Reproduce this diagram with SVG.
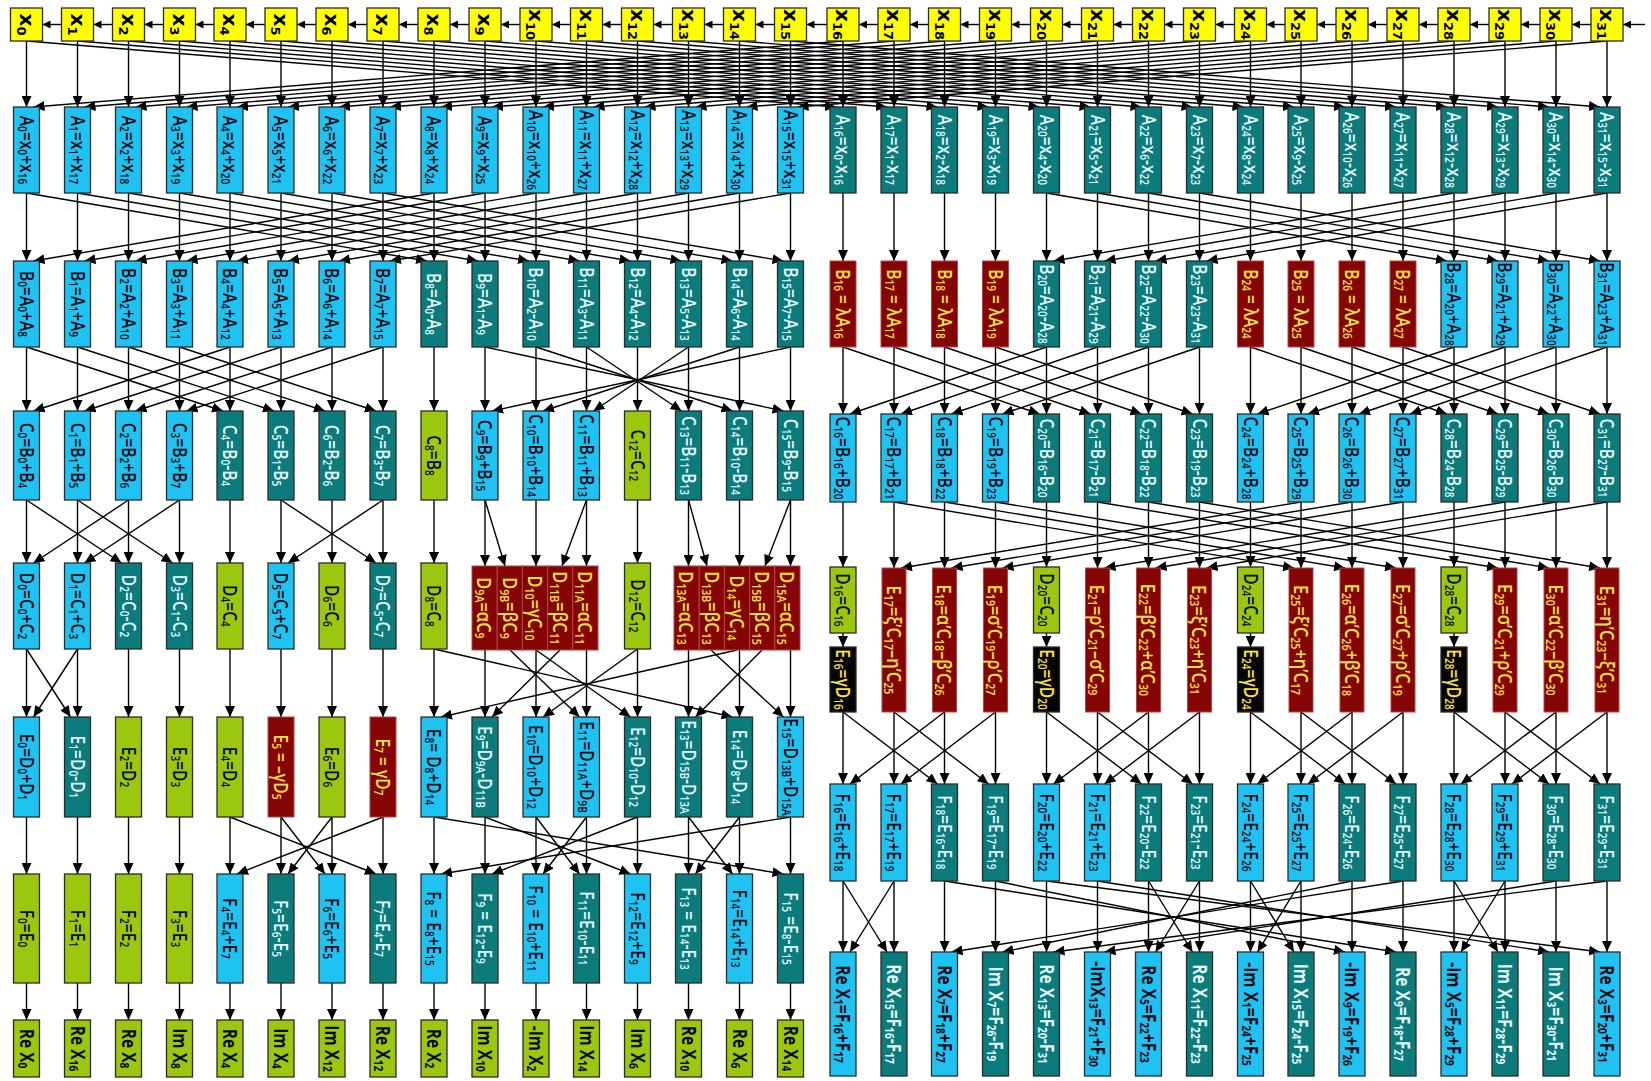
<svg xmlns="http://www.w3.org/2000/svg" width="1651" height="1081" viewBox="0 0 1651 1081">
<defs>
<marker id="ah" markerWidth="11" markerHeight="10" refX="11" refY="5" orient="auto" markerUnits="userSpaceOnUse"><path d="M0,0 L11,5 L0,10 z" fill="#000"/></marker>
<marker id="ah2" markerWidth="8" markerHeight="8" refX="8" refY="4" orient="auto" markerUnits="userSpaceOnUse"><path d="M0,0 L8,4 L0,8 z" fill="#000"/></marker>
<style>
.b{stroke:#2b2b2b;stroke-width:1.3}
.y{fill:#ffff00}
.c{fill:#1ec3f2}
.t{fill:#0b7b7c}
.g{fill:#9cc70f}
.r{fill:#850404;stroke:#b04848;stroke-width:1}
.k{fill:#050505}
text{font-family:"Open Sans","DejaVu Sans",sans-serif;font-weight:600;font-size:19px;text-anchor:middle;dominant-baseline:central}
.X{font-family:"DejaVu Sans",sans-serif;font-weight:700;font-size:20px;fill:#000}
.d{fill:#0a0a14}
.w{fill:#e4f9fb}
.e{fill:#ffe23c}
.big{font-size:20px}
.o{font-weight:700;font-size:19px}
.s{font-size:65%;baseline-shift:-5px}
#conn path{stroke:#000;stroke-width:1.4;fill:none;marker-end:url(#ah)}
#conn path.h{marker-end:url(#ah2)}
</style>
</defs>
<rect width="1651" height="1081" fill="#fff"/>
<g id="conn">
<path class="h" d="M61.5,24.5 H42.5"/><path class="h" d="M112.5,24.5 H93.5"/><path class="h" d="M163.5,24.5 H144.5"/><path class="h" d="M214,24.5 H195.5"/><path class="h" d="M265,24.5 H246"/><path class="h" d="M316,24.5 H297"/><path class="h" d="M367,24.5 H348"/><path class="h" d="M418,24.5 H399"/><path class="h" d="M469,24.5 H450"/><path class="h" d="M520,24.5 H501"/><path class="h" d="M570.5,24.5 H552"/><path class="h" d="M621.5,24.5 H602.5"/><path class="h" d="M672.5,24.5 H653.5"/><path class="h" d="M723.5,24.5 H704.5"/><path class="h" d="M774.5,24.5 H755.5"/><path class="h" d="M827,24.5 H806.5"/><path class="h" d="M878,24.5 H859"/><path class="h" d="M928.5,24.5 H910"/><path class="h" d="M979.5,24.5 H960.5"/><path class="h" d="M1030.5,24.5 H1011.5"/><path class="h" d="M1081.5,24.5 H1062.5"/><path class="h" d="M1132.5,24.5 H1113.5"/><path class="h" d="M1183.5,24.5 H1164.5"/><path class="h" d="M1234.5,24.5 H1215.5"/><path class="h" d="M1285,24.5 H1266.5"/><path class="h" d="M1336,24.5 H1317"/><path class="h" d="M1387,24.5 H1368"/><path class="h" d="M1438,24.5 H1419"/><path class="h" d="M1489,24.5 H1470"/><path class="h" d="M1540,24.5 H1521"/><path class="h" d="M1591,24.5 H1572"/><path class="h" d="M1645,24.5 H1623"/>
<path d="M26.5,41 V107"/><path d="M77.5,41 V107"/><path d="M128.5,41 V107"/><path d="M179.5,41 V107"/><path d="M230,41 V107"/><path d="M281,41 V107"/><path d="M332,41 V107"/><path d="M383,41 V107"/><path d="M434,41 V107"/><path d="M485,41 V107"/><path d="M536,41 V107"/><path d="M586.5,41 V107"/><path d="M637.5,41 V107"/><path d="M688.5,41 V107"/><path d="M739.5,41 V107"/><path d="M790.5,41 V107"/><path d="M843,41 V107"/><path d="M894,41 V107"/><path d="M944.5,41 V107"/><path d="M995.5,41 V107"/><path d="M1046.5,41 V107"/><path d="M1097.5,41 V107"/><path d="M1148.5,41 V107"/><path d="M1199.5,41 V107"/><path d="M1250.5,41 V107"/><path d="M1301,41 V107"/><path d="M1352,41 V107"/><path d="M1403,41 V107"/><path d="M1454,41 V107"/><path d="M1505,41 V107"/><path d="M1556,41 V107"/><path d="M1607,41 V107"/>
<path d="M843,41 L33.5,107"/><path d="M894,41 L84.5,107"/><path d="M944.5,41 L135.5,107"/><path d="M995.5,41 L186.5,107"/><path d="M1046.5,41 L237,107"/><path d="M1097.5,41 L288,107"/><path d="M1148.5,41 L339,107"/><path d="M1199.5,41 L390,107"/><path d="M1250.5,41 L441,107"/><path d="M1301,41 L492,107"/><path d="M1352,41 L543,107"/><path d="M1403,41 L593.5,107"/><path d="M1454,41 L644.5,107"/><path d="M1505,41 L695.5,107"/><path d="M1556,41 L746.5,107"/><path d="M1607,41 L797.5,107"/>
<path d="M26.5,41 L836,107"/><path d="M77.5,41 L887,107"/><path d="M128.5,41 L937.5,107"/><path d="M179.5,41 L988.5,107"/><path d="M230,41 L1039.5,107"/><path d="M281,41 L1090.5,107"/><path d="M332,41 L1141.5,107"/><path d="M383,41 L1192.5,107"/><path d="M434,41 L1243.5,107"/><path d="M485,41 L1294,107"/><path d="M536,41 L1345,107"/><path d="M586.5,41 L1396,107"/><path d="M637.5,41 L1447,107"/><path d="M688.5,41 L1498,107"/><path d="M739.5,41 L1549,107"/><path d="M790.5,41 L1600,107"/>
<path d="M26.5,193 V261"/><path d="M77.5,193 V261"/><path d="M128.5,193 V261"/><path d="M179.5,193 V261"/><path d="M230,193 V261"/><path d="M281,193 V261"/><path d="M332,193 V261"/><path d="M383,193 V261"/><path d="M434,193 V261"/><path d="M485,193 V261"/><path d="M536,193 V261"/><path d="M586.5,193 V261"/><path d="M637.5,193 V261"/><path d="M688.5,193 V261"/><path d="M739.5,193 V261"/><path d="M790.5,193 V261"/><path d="M843,193 V261"/><path d="M894,193 V261"/><path d="M944.5,193 V261"/><path d="M995.5,193 V261"/><path d="M1046.5,193 V261"/><path d="M1097.5,193 V261"/><path d="M1148.5,193 V261"/><path d="M1199.5,193 V261"/><path d="M1250.5,193 V261"/><path d="M1301,193 V261"/><path d="M1352,193 V261"/><path d="M1403,193 V261"/><path d="M1454,193 V261"/><path d="M1505,193 V261"/><path d="M1556,193 V261"/><path d="M1607,193 V261"/>
<path d="M26.5,193 L427,261"/><path d="M77.5,193 L478,261"/><path d="M128.5,193 L529,261"/><path d="M179.5,193 L579.5,261"/><path d="M230,193 L630.5,261"/><path d="M281,193 L681.5,261"/><path d="M332,193 L732.5,261"/><path d="M383,193 L783.5,261"/>
<path d="M434,193 L33.5,261"/><path d="M485,193 L84.5,261"/><path d="M536,193 L135.5,261"/><path d="M586.5,193 L186.5,261"/><path d="M637.5,193 L237,261"/><path d="M688.5,193 L288,261"/><path d="M739.5,193 L339,261"/><path d="M790.5,193 L390,261"/>
<path d="M1046.5,193 L1447,261"/><path d="M1097.5,193 L1498,261"/><path d="M1148.5,193 L1549,261"/><path d="M1199.5,193 L1600,261"/>
<path d="M1454,193 L1053.5,261"/><path d="M1505,193 L1104.5,261"/><path d="M1556,193 L1155.5,261"/><path d="M1607,193 L1206.5,261"/>
<path d="M26.5,347 V411"/><path d="M77.5,347 V411"/><path d="M128.5,347 V411"/><path d="M179.5,347 V411"/><path d="M230,347 V411"/><path d="M281,347 V411"/><path d="M332,347 V411"/><path d="M383,347 V411"/><path d="M434,347 V411"/><path d="M485,347 V411"/><path d="M536,347 V411"/><path d="M586.5,347 V411"/><path d="M637.5,347 V411"/><path d="M688.5,347 V411"/><path d="M739.5,347 V411"/><path d="M790.5,347 V411"/><path d="M843,347 V414"/><path d="M894,347 V414"/><path d="M944.5,347 V414"/><path d="M995.5,347 V414"/><path d="M1046.5,347 V414"/><path d="M1097.5,347 V414"/><path d="M1148.5,347 V414"/><path d="M1199.5,347 V414"/><path d="M1250.5,347 V414"/><path d="M1301,347 V414"/><path d="M1352,347 V414"/><path d="M1403,347 V414"/><path d="M1454,347 V414"/><path d="M1505,347 V414"/><path d="M1556,347 V414"/><path d="M1607,347 V414"/>
<path d="M26.5,347 L223,411"/><path d="M77.5,347 L274,411"/><path d="M128.5,347 L325,411"/><path d="M179.5,347 L376,411"/><path d="M230,347 L33.5,411"/><path d="M281,347 L84.5,411"/><path d="M332,347 L135.5,411"/><path d="M383,347 L186.5,411"/>
<path d="M485,347 L783.5,411"/><path d="M790.5,347 L492,411"/><path d="M536,347 L732.5,411"/><path d="M739.5,347 L543,411"/><path d="M586.5,347 L681.5,411"/><path d="M688.5,347 L593.5,411"/>
<path d="M843,347 L1039.5,414"/><path d="M894,347 L1090.5,414"/><path d="M944.5,347 L1141.5,414"/><path d="M995.5,347 L1192.5,414"/><path d="M1046.5,347 L850,414"/><path d="M1097.5,347 L901,414"/><path d="M1148.5,347 L951.5,414"/><path d="M1199.5,347 L1002.5,414"/>
<path d="M1250.5,347 L1447,414"/><path d="M1301,347 L1498,414"/><path d="M1352,347 L1549,414"/><path d="M1403,347 L1600,414"/><path d="M1454,347 L1257.5,414"/><path d="M1505,347 L1308,414"/><path d="M1556,347 L1359,414"/><path d="M1607,347 L1410,414"/>
<path d="M26.5,500 V563"/><path d="M77.5,500 V563"/><path d="M128.5,500 V563"/><path d="M179.5,500 V563"/><path d="M230,500 V563"/><path d="M281,500 V563"/><path d="M332,500 V563"/><path d="M383,500 V563"/><path d="M434,500 V563"/><path d="M637.5,500 V563"/>
<path d="M26.5,500 L121.5,563"/><path d="M128.5,500 L33.5,563"/><path d="M77.5,500 L172.5,563"/><path d="M179.5,500 L84.5,563"/><path d="M281,500 L376,563"/><path d="M383,500 L288,563"/>
<path d="M485,500 V566"/><path d="M485,500 L505,566"/><path d="M536,500 V566"/><path d="M586.5,500 L562,566"/><path d="M586.5,500 V566"/><path d="M688.5,500 V566"/><path d="M688.5,500 L707,566"/><path d="M739.5,500 V566"/><path d="M790.5,500 L765,566"/><path d="M790.5,500 V566"/>
<path d="M843,502 V567"/><path d="M1046.5,502 V567"/><path d="M1250.5,502 V567"/><path d="M1454,502 V567"/>
<path d="M894,502 V568"/><path d="M944.5,502 V568"/><path d="M995.5,502 V568"/><path d="M1097.5,502 V568"/><path d="M1148.5,502 V568"/><path d="M1199.5,502 V568"/><path d="M1301,502 V568"/><path d="M1352,502 V568"/><path d="M1403,502 V568"/><path d="M1505,502 V568"/><path d="M1556,502 V568"/><path d="M1607,502 V568"/>
<path d="M1301,502 L901,568"/><path d="M1352,502 L951.5,568"/><path d="M1403,502 L1002.5,568"/><path d="M1505,502 L1104.5,568"/><path d="M1556,502 L1155.5,568"/><path d="M1607,502 L1206.5,568"/>
<path d="M894,502 L1294,568"/><path d="M944.5,502 L1345,568"/><path d="M995.5,502 L1396,568"/><path d="M1097.5,502 L1498,568"/><path d="M1148.5,502 L1549,568"/><path d="M1199.5,502 L1600,568"/>
<path d="M843,633 V647"/><path d="M1046.5,633 V647"/><path d="M1250.5,633 V647"/><path d="M1454,633 V647"/>
<path d="M26.5,649 V717"/><path d="M26.5,649 L70.5,717"/><path d="M77.5,649 V717"/><path d="M77.5,649 L33.5,717"/><path d="M128.5,649 V717"/><path d="M179.5,649 V717"/><path d="M230,649 V717"/><path d="M281,649 V717"/><path d="M332,649 V717"/><path d="M383,649 V717"/>
<path d="M434,649 V717"/><path d="M434,649 L732.5,717"/><path d="M739.5,650 V717"/><path d="M737,650 L441,717"/><path d="M485,650 V717"/><path d="M560,650 L492,717"/><path d="M536,650 V717"/><path d="M536,650 L630.5,717"/><path d="M637.5,649 V717"/><path d="M637.5,649 L543,717"/><path d="M510,650 L579.5,717"/><path d="M586.5,650 V717"/><path d="M688.5,650 V717"/><path d="M762,650 L695.5,717"/><path d="M711,650 L783.5,717"/><path d="M790.5,650 V717"/>
<path d="M26.5,817 V874"/><path d="M77.5,817 V874"/><path d="M128.5,817 V874"/><path d="M179.5,817 V874"/><path d="M230,817 V874"/><path d="M281,817 V874"/><path d="M332,817 V874"/><path d="M383,817 V874"/><path d="M434,817 V874"/><path d="M485,817 V874"/><path d="M536,817 V874"/><path d="M586.5,817 V874"/><path d="M637.5,817 V874"/><path d="M688.5,817 V874"/><path d="M739.5,817 V874"/><path d="M790.5,817 V874"/>
<path d="M230,817 L376,874"/><path d="M383,817 L237,874"/><path d="M281,817 L325,874"/><path d="M332,817 L288,874"/><path d="M434,817 L783.5,874"/><path d="M790.5,817 L441,874"/><path d="M485,817 L630.5,874"/><path d="M637.5,817 L492,874"/><path d="M536,817 L579.5,874"/><path d="M586.5,817 L543,874"/><path d="M688.5,817 L732.5,874"/><path d="M739.5,817 L695.5,874"/>
<path d="M26.5,983 V1020"/><path d="M77.5,983 V1020"/><path d="M128.5,983 V1020"/><path d="M179.5,983 V1020"/><path d="M230,983 V1020"/><path d="M281,983 V1020"/><path d="M332,983 V1020"/><path d="M383,983 V1020"/><path d="M434,983 V1020"/><path d="M485,983 V1020"/><path d="M536,983 V1020"/><path d="M586.5,983 V1020"/><path d="M637.5,983 V1020"/><path d="M688.5,983 V1020"/><path d="M739.5,983 V1020"/><path d="M790.5,983 V1020"/>
<path d="M843,712 V784"/><path d="M894,712 V784"/><path d="M944.5,712 V784"/><path d="M995.5,712 V784"/><path d="M1046.5,712 V784"/><path d="M1097.5,712 V784"/><path d="M1148.5,712 V784"/><path d="M1199.5,712 V784"/><path d="M1250.5,712 V784"/><path d="M1301,712 V784"/><path d="M1352,712 V784"/><path d="M1403,712 V784"/><path d="M1454,712 V784"/><path d="M1505,712 V784"/><path d="M1556,712 V784"/><path d="M1607,712 V784"/>
<path d="M843,712 L937.5,784"/><path d="M944.5,712 L850,784"/><path d="M894,712 L988.5,784"/><path d="M995.5,712 L901,784"/>
<path d="M1046.5,712 L1141.5,784"/><path d="M1148.5,712 L1053.5,784"/><path d="M1097.5,712 L1192.5,784"/><path d="M1199.5,712 L1104.5,784"/>
<path d="M1250.5,712 L1345,784"/><path d="M1352,712 L1257.5,784"/><path d="M1301,712 L1396,784"/><path d="M1403,712 L1308,784"/>
<path d="M1454,712 L1549,784"/><path d="M1556,712 L1461,784"/><path d="M1505,712 L1600,784"/><path d="M1607,712 L1512,784"/>
<path d="M843,881 V952"/><path d="M894,881 V952"/><path d="M944.5,881 V952"/><path d="M995.5,881 V952"/><path d="M1046.5,881 V952"/><path d="M1097.5,881 V952"/><path d="M1148.5,881 V952"/><path d="M1199.5,881 V952"/><path d="M1250.5,881 V952"/><path d="M1301,881 V952"/><path d="M1352,881 V952"/><path d="M1403,881 V952"/><path d="M1454,881 V952"/><path d="M1505,881 V952"/><path d="M1556,881 V952"/><path d="M1607,881 V952"/>
<path d="M843,881 L887,952"/><path d="M894,881 L850,952"/><path d="M1148.5,881 L1192.5,952"/><path d="M1199.5,881 L1155.5,952"/><path d="M1250.5,881 L1294,952"/><path d="M1301,881 L1257.5,952"/><path d="M1454,881 L1498,952"/><path d="M1505,881 L1461,952"/>
<path d="M944.5,881 L1396,952"/><path d="M1403,881 L951.5,952"/><path d="M995.5,881 L1345,952"/><path d="M1352,881 L1002.5,952"/><path d="M1046.5,881 L1600,952"/><path d="M1607,881 L1053.5,952"/><path d="M1097.5,881 L1549,952"/><path d="M1556,881 L1104.5,952"/>
</g>
<g id="nodes">
<g id="x0"><rect class="b y" x="10.5" y="8" width="32" height="33"/><text class="X" transform="translate(26.5,24.5) rotate(90)">x<tspan class="s">0</tspan></text></g>
<g id="x1"><rect class="b y" x="61.5" y="8" width="32" height="33"/><text class="X" transform="translate(77.5,24.5) rotate(90)">x<tspan class="s">1</tspan></text></g>
<g id="x2"><rect class="b y" x="112.5" y="8" width="32" height="33"/><text class="X" transform="translate(128.5,24.5) rotate(90)">x<tspan class="s">2</tspan></text></g>
<g id="x3"><rect class="b y" x="163.5" y="8" width="32" height="33"/><text class="X" transform="translate(179.5,24.5) rotate(90)">x<tspan class="s">3</tspan></text></g>
<g id="x4"><rect class="b y" x="214" y="8" width="32" height="33"/><text class="X" transform="translate(230,24.5) rotate(90)">x<tspan class="s">4</tspan></text></g>
<g id="x5"><rect class="b y" x="265" y="8" width="32" height="33"/><text class="X" transform="translate(281,24.5) rotate(90)">x<tspan class="s">5</tspan></text></g>
<g id="x6"><rect class="b y" x="316" y="8" width="32" height="33"/><text class="X" transform="translate(332,24.5) rotate(90)">x<tspan class="s">6</tspan></text></g>
<g id="x7"><rect class="b y" x="367" y="8" width="32" height="33"/><text class="X" transform="translate(383,24.5) rotate(90)">x<tspan class="s">7</tspan></text></g>
<g id="x8"><rect class="b y" x="418" y="8" width="32" height="33"/><text class="X" transform="translate(434,24.5) rotate(90)">x<tspan class="s">8</tspan></text></g>
<g id="x9"><rect class="b y" x="469" y="8" width="32" height="33"/><text class="X" transform="translate(485,24.5) rotate(90)">x<tspan class="s">9</tspan></text></g>
<g id="x10"><rect class="b y" x="520" y="8" width="32" height="33"/><text class="X" transform="translate(536,24.5) rotate(90)">x<tspan class="s">10</tspan></text></g>
<g id="x11"><rect class="b y" x="570.5" y="8" width="32" height="33"/><text class="X" transform="translate(586.5,24.5) rotate(90)">x<tspan class="s">11</tspan></text></g>
<g id="x12"><rect class="b y" x="621.5" y="8" width="32" height="33"/><text class="X" transform="translate(637.5,24.5) rotate(90)">x<tspan class="s">12</tspan></text></g>
<g id="x13"><rect class="b y" x="672.5" y="8" width="32" height="33"/><text class="X" transform="translate(688.5,24.5) rotate(90)">x<tspan class="s">13</tspan></text></g>
<g id="x14"><rect class="b y" x="723.5" y="8" width="32" height="33"/><text class="X" transform="translate(739.5,24.5) rotate(90)">x<tspan class="s">14</tspan></text></g>
<g id="x15"><rect class="b y" x="774.5" y="8" width="32" height="33"/><text class="X" transform="translate(790.5,24.5) rotate(90)">x<tspan class="s">15</tspan></text></g>
<g id="x16"><rect class="b y" x="827" y="8" width="32" height="33"/><text class="X" transform="translate(843,24.5) rotate(90)">x<tspan class="s">16</tspan></text></g>
<g id="x17"><rect class="b y" x="878" y="8" width="32" height="33"/><text class="X" transform="translate(894,24.5) rotate(90)">x<tspan class="s">17</tspan></text></g>
<g id="x18"><rect class="b y" x="928.5" y="8" width="32" height="33"/><text class="X" transform="translate(944.5,24.5) rotate(90)">x<tspan class="s">18</tspan></text></g>
<g id="x19"><rect class="b y" x="979.5" y="8" width="32" height="33"/><text class="X" transform="translate(995.5,24.5) rotate(90)">x<tspan class="s">19</tspan></text></g>
<g id="x20"><rect class="b y" x="1030.5" y="8" width="32" height="33"/><text class="X" transform="translate(1046.5,24.5) rotate(90)">x<tspan class="s">20</tspan></text></g>
<g id="x21"><rect class="b y" x="1081.5" y="8" width="32" height="33"/><text class="X" transform="translate(1097.5,24.5) rotate(90)">x<tspan class="s">21</tspan></text></g>
<g id="x22"><rect class="b y" x="1132.5" y="8" width="32" height="33"/><text class="X" transform="translate(1148.5,24.5) rotate(90)">x<tspan class="s">22</tspan></text></g>
<g id="x23"><rect class="b y" x="1183.5" y="8" width="32" height="33"/><text class="X" transform="translate(1199.5,24.5) rotate(90)">x<tspan class="s">23</tspan></text></g>
<g id="x24"><rect class="b y" x="1234.5" y="8" width="32" height="33"/><text class="X" transform="translate(1250.5,24.5) rotate(90)">x<tspan class="s">24</tspan></text></g>
<g id="x25"><rect class="b y" x="1285" y="8" width="32" height="33"/><text class="X" transform="translate(1301,24.5) rotate(90)">x<tspan class="s">25</tspan></text></g>
<g id="x26"><rect class="b y" x="1336" y="8" width="32" height="33"/><text class="X" transform="translate(1352,24.5) rotate(90)">x<tspan class="s">26</tspan></text></g>
<g id="x27"><rect class="b y" x="1387" y="8" width="32" height="33"/><text class="X" transform="translate(1403,24.5) rotate(90)">x<tspan class="s">27</tspan></text></g>
<g id="x28"><rect class="b y" x="1438" y="8" width="32" height="33"/><text class="X" transform="translate(1454,24.5) rotate(90)">x<tspan class="s">28</tspan></text></g>
<g id="x29"><rect class="b y" x="1489" y="8" width="32" height="33"/><text class="X" transform="translate(1505,24.5) rotate(90)">x<tspan class="s">29</tspan></text></g>
<g id="x30"><rect class="b y" x="1540" y="8" width="32" height="33"/><text class="X" transform="translate(1556,24.5) rotate(90)">x<tspan class="s">30</tspan></text></g>
<g id="x31"><rect class="b y" x="1591" y="8" width="32" height="33"/><text class="X" transform="translate(1607,24.5) rotate(90)">x<tspan class="s">31</tspan></text></g>

<g id="A0"><rect class="b c" x="13.5" y="107" width="26" height="86"/><text class="d" transform="translate(27.5,150) rotate(90) scale(.82,1)">A<tspan class="s">0</tspan>=x<tspan class="s">0</tspan>+x<tspan class="s">16</tspan></text></g>
<g id="A1"><rect class="b c" x="64.5" y="107" width="26" height="86"/><text class="d" transform="translate(78.5,150) rotate(90) scale(.82,1)">A<tspan class="s">1</tspan>=x<tspan class="s">1</tspan>+x<tspan class="s">17</tspan></text></g>
<g id="A2"><rect class="b c" x="115.5" y="107" width="26" height="86"/><text class="d" transform="translate(129.5,150) rotate(90) scale(.82,1)">A<tspan class="s">2</tspan>=x<tspan class="s">2</tspan>+x<tspan class="s">18</tspan></text></g>
<g id="A3"><rect class="b c" x="166.5" y="107" width="26" height="86"/><text class="d" transform="translate(180.5,150) rotate(90) scale(.82,1)">A<tspan class="s">3</tspan>=x<tspan class="s">3</tspan>+x<tspan class="s">19</tspan></text></g>
<g id="A4"><rect class="b c" x="217" y="107" width="26" height="86"/><text class="d" transform="translate(231,150) rotate(90) scale(.82,1)">A<tspan class="s">4</tspan>=x<tspan class="s">4</tspan>+x<tspan class="s">20</tspan></text></g>
<g id="A5"><rect class="b c" x="268" y="107" width="26" height="86"/><text class="d" transform="translate(282,150) rotate(90) scale(.82,1)">A<tspan class="s">5</tspan>=x<tspan class="s">5</tspan>+x<tspan class="s">21</tspan></text></g>
<g id="A6"><rect class="b c" x="319" y="107" width="26" height="86"/><text class="d" transform="translate(333,150) rotate(90) scale(.82,1)">A<tspan class="s">6</tspan>=x<tspan class="s">6</tspan>+x<tspan class="s">22</tspan></text></g>
<g id="A7"><rect class="b c" x="370" y="107" width="26" height="86"/><text class="d" transform="translate(384,150) rotate(90) scale(.82,1)">A<tspan class="s">7</tspan>=x<tspan class="s">7</tspan>+x<tspan class="s">23</tspan></text></g>
<g id="A8"><rect class="b c" x="421" y="107" width="26" height="86"/><text class="d" transform="translate(435,150) rotate(90) scale(.82,1)">A<tspan class="s">8</tspan>=x<tspan class="s">8</tspan>+x<tspan class="s">24</tspan></text></g>
<g id="A9"><rect class="b c" x="472" y="107" width="26" height="86"/><text class="d" transform="translate(486,150) rotate(90) scale(.82,1)">A<tspan class="s">9</tspan>=x<tspan class="s">9</tspan>+x<tspan class="s">25</tspan></text></g>
<g id="A10"><rect class="b c" x="523" y="107" width="26" height="86"/><text class="d" transform="translate(537,150) rotate(90) scale(.82,1)">A<tspan class="s">10</tspan>=x<tspan class="s">10</tspan>+x<tspan class="s">26</tspan></text></g>
<g id="A11"><rect class="b c" x="573.5" y="107" width="26" height="86"/><text class="d" transform="translate(587.5,150) rotate(90) scale(.82,1)">A<tspan class="s">11</tspan>=x<tspan class="s">11</tspan>+x<tspan class="s">27</tspan></text></g>
<g id="A12"><rect class="b c" x="624.5" y="107" width="26" height="86"/><text class="d" transform="translate(638.5,150) rotate(90) scale(.82,1)">A<tspan class="s">12</tspan>=x<tspan class="s">12</tspan>+x<tspan class="s">28</tspan></text></g>
<g id="A13"><rect class="b c" x="675.5" y="107" width="26" height="86"/><text class="d" transform="translate(689.5,150) rotate(90) scale(.82,1)">A<tspan class="s">13</tspan>=x<tspan class="s">13</tspan>+x<tspan class="s">29</tspan></text></g>
<g id="A14"><rect class="b c" x="726.5" y="107" width="26" height="86"/><text class="d" transform="translate(740.5,150) rotate(90) scale(.82,1)">A<tspan class="s">14</tspan>=x<tspan class="s">14</tspan>+x<tspan class="s">30</tspan></text></g>
<g id="A15"><rect class="b c" x="777.5" y="107" width="26" height="86"/><text class="d" transform="translate(791.5,150) rotate(90) scale(.82,1)">A<tspan class="s">15</tspan>=x<tspan class="s">15</tspan>+x<tspan class="s">31</tspan></text></g>
<g id="A16"><rect class="b t" x="830" y="107" width="26" height="86"/><text class="w" transform="translate(844,150) rotate(90) scale(.82,1)">A<tspan class="s">16</tspan>=x<tspan class="s">0</tspan>-x<tspan class="s">16</tspan></text></g>
<g id="A17"><rect class="b t" x="881" y="107" width="26" height="86"/><text class="w" transform="translate(895,150) rotate(90) scale(.82,1)">A<tspan class="s">17</tspan>=x<tspan class="s">1</tspan>-x<tspan class="s">17</tspan></text></g>
<g id="A18"><rect class="b t" x="931.5" y="107" width="26" height="86"/><text class="w" transform="translate(945.5,150) rotate(90) scale(.82,1)">A<tspan class="s">18</tspan>=x<tspan class="s">2</tspan>-x<tspan class="s">18</tspan></text></g>
<g id="A19"><rect class="b t" x="982.5" y="107" width="26" height="86"/><text class="w" transform="translate(996.5,150) rotate(90) scale(.82,1)">A<tspan class="s">19</tspan>=x<tspan class="s">3</tspan>-x<tspan class="s">19</tspan></text></g>
<g id="A20"><rect class="b t" x="1033.5" y="107" width="26" height="86"/><text class="w" transform="translate(1047.5,150) rotate(90) scale(.82,1)">A<tspan class="s">20</tspan>=x<tspan class="s">4</tspan>-x<tspan class="s">20</tspan></text></g>
<g id="A21"><rect class="b t" x="1084.5" y="107" width="26" height="86"/><text class="w" transform="translate(1098.5,150) rotate(90) scale(.82,1)">A<tspan class="s">21</tspan>=x<tspan class="s">5</tspan>-x<tspan class="s">21</tspan></text></g>
<g id="A22"><rect class="b t" x="1135.5" y="107" width="26" height="86"/><text class="w" transform="translate(1149.5,150) rotate(90) scale(.82,1)">A<tspan class="s">22</tspan>=x<tspan class="s">6</tspan>-x<tspan class="s">22</tspan></text></g>
<g id="A23"><rect class="b t" x="1186.5" y="107" width="26" height="86"/><text class="w" transform="translate(1200.5,150) rotate(90) scale(.82,1)">A<tspan class="s">23</tspan>=x<tspan class="s">7</tspan>-x<tspan class="s">23</tspan></text></g>
<g id="A24"><rect class="b t" x="1237.5" y="107" width="26" height="86"/><text class="w" transform="translate(1251.5,150) rotate(90) scale(.82,1)">A<tspan class="s">24</tspan>=x<tspan class="s">8</tspan>-x<tspan class="s">24</tspan></text></g>
<g id="A25"><rect class="b t" x="1288" y="107" width="26" height="86"/><text class="w" transform="translate(1302,150) rotate(90) scale(.82,1)">A<tspan class="s">25</tspan>=x<tspan class="s">9</tspan>-x<tspan class="s">25</tspan></text></g>
<g id="A26"><rect class="b t" x="1339" y="107" width="26" height="86"/><text class="w" transform="translate(1353,150) rotate(90) scale(.82,1)">A<tspan class="s">26</tspan>=x<tspan class="s">10</tspan>-x<tspan class="s">26</tspan></text></g>
<g id="A27"><rect class="b t" x="1390" y="107" width="26" height="86"/><text class="w" transform="translate(1404,150) rotate(90) scale(.82,1)">A<tspan class="s">27</tspan>=x<tspan class="s">11</tspan>-x<tspan class="s">27</tspan></text></g>
<g id="A28"><rect class="b t" x="1441" y="107" width="26" height="86"/><text class="w" transform="translate(1455,150) rotate(90) scale(.82,1)">A<tspan class="s">28</tspan>=x<tspan class="s">12</tspan>-x<tspan class="s">28</tspan></text></g>
<g id="A29"><rect class="b t" x="1492" y="107" width="26" height="86"/><text class="w" transform="translate(1506,150) rotate(90) scale(.82,1)">A<tspan class="s">29</tspan>=x<tspan class="s">13</tspan>-x<tspan class="s">29</tspan></text></g>
<g id="A30"><rect class="b t" x="1543" y="107" width="26" height="86"/><text class="w" transform="translate(1557,150) rotate(90) scale(.82,1)">A<tspan class="s">30</tspan>=x<tspan class="s">14</tspan>-x<tspan class="s">30</tspan></text></g>
<g id="A31"><rect class="b t" x="1594" y="107" width="26" height="86"/><text class="w" transform="translate(1608,150) rotate(90) scale(.82,1)">A<tspan class="s">31</tspan>=x<tspan class="s">15</tspan>-x<tspan class="s">31</tspan></text></g>

<g id="B0"><rect class="b c" x="13.5" y="261" width="26" height="86"/><text class="d" transform="translate(27.5,304) rotate(90) scale(.82,1)">B<tspan class="s">0</tspan>=A<tspan class="s">0</tspan>+A<tspan class="s">8</tspan></text></g>
<g id="B1"><rect class="b c" x="64.5" y="261" width="26" height="86"/><text class="d" transform="translate(78.5,304) rotate(90) scale(.82,1)">B<tspan class="s">1</tspan>=A<tspan class="s">1</tspan>+A<tspan class="s">9</tspan></text></g>
<g id="B2"><rect class="b c" x="115.5" y="261" width="26" height="86"/><text class="d" transform="translate(129.5,304) rotate(90) scale(.82,1)">B<tspan class="s">2</tspan>=A<tspan class="s">2</tspan>+A<tspan class="s">10</tspan></text></g>
<g id="B3"><rect class="b c" x="166.5" y="261" width="26" height="86"/><text class="d" transform="translate(180.5,304) rotate(90) scale(.82,1)">B<tspan class="s">3</tspan>=A<tspan class="s">3</tspan>+A<tspan class="s">11</tspan></text></g>
<g id="B4"><rect class="b c" x="217" y="261" width="26" height="86"/><text class="d" transform="translate(231,304) rotate(90) scale(.82,1)">B<tspan class="s">4</tspan>=A<tspan class="s">4</tspan>+A<tspan class="s">12</tspan></text></g>
<g id="B5"><rect class="b c" x="268" y="261" width="26" height="86"/><text class="d" transform="translate(282,304) rotate(90) scale(.82,1)">B<tspan class="s">5</tspan>=A<tspan class="s">5</tspan>+A<tspan class="s">13</tspan></text></g>
<g id="B6"><rect class="b c" x="319" y="261" width="26" height="86"/><text class="d" transform="translate(333,304) rotate(90) scale(.82,1)">B<tspan class="s">6</tspan>=A<tspan class="s">6</tspan>+A<tspan class="s">14</tspan></text></g>
<g id="B7"><rect class="b c" x="370" y="261" width="26" height="86"/><text class="d" transform="translate(384,304) rotate(90) scale(.82,1)">B<tspan class="s">7</tspan>=A<tspan class="s">7</tspan>+A<tspan class="s">15</tspan></text></g>
<g id="B8"><rect class="b t" x="421" y="261" width="26" height="86"/><text class="w" transform="translate(435,304) rotate(90) scale(.82,1)">B<tspan class="s">8</tspan>=A<tspan class="s">0</tspan>-A<tspan class="s">8</tspan></text></g>
<g id="B9"><rect class="b t" x="472" y="261" width="26" height="86"/><text class="w" transform="translate(486,304) rotate(90) scale(.82,1)">B<tspan class="s">9</tspan>=A<tspan class="s">1</tspan>-A<tspan class="s">9</tspan></text></g>
<g id="B10"><rect class="b t" x="523" y="261" width="26" height="86"/><text class="w" transform="translate(537,304) rotate(90) scale(.82,1)">B<tspan class="s">10</tspan>=A<tspan class="s">2</tspan>-A<tspan class="s">10</tspan></text></g>
<g id="B11"><rect class="b t" x="573.5" y="261" width="26" height="86"/><text class="w" transform="translate(587.5,304) rotate(90) scale(.82,1)">B<tspan class="s">11</tspan>=A<tspan class="s">3</tspan>-A<tspan class="s">11</tspan></text></g>
<g id="B12"><rect class="b t" x="624.5" y="261" width="26" height="86"/><text class="w" transform="translate(638.5,304) rotate(90) scale(.82,1)">B<tspan class="s">12</tspan>=A<tspan class="s">4</tspan>-A<tspan class="s">12</tspan></text></g>
<g id="B13"><rect class="b t" x="675.5" y="261" width="26" height="86"/><text class="w" transform="translate(689.5,304) rotate(90) scale(.82,1)">B<tspan class="s">13</tspan>=A<tspan class="s">5</tspan>-A<tspan class="s">13</tspan></text></g>
<g id="B14"><rect class="b t" x="726.5" y="261" width="26" height="86"/><text class="w" transform="translate(740.5,304) rotate(90) scale(.82,1)">B<tspan class="s">14</tspan>=A<tspan class="s">6</tspan>-A<tspan class="s">14</tspan></text></g>
<g id="B15"><rect class="b t" x="777.5" y="261" width="26" height="86"/><text class="w" transform="translate(791.5,304) rotate(90) scale(.82,1)">B<tspan class="s">15</tspan>=A<tspan class="s">7</tspan>-A<tspan class="s">15</tspan></text></g>
<g id="B16"><rect class="b r" x="830" y="261" width="26" height="86"/><text class="e" transform="translate(844,304) rotate(90) scale(.82,1)">B<tspan class="s">16</tspan> = λA<tspan class="s">16</tspan></text></g>
<g id="B17"><rect class="b r" x="881" y="261" width="26" height="86"/><text class="e" transform="translate(895,304) rotate(90) scale(.82,1)">B<tspan class="s">17</tspan> = λA<tspan class="s">17</tspan></text></g>
<g id="B18"><rect class="b r" x="931.5" y="261" width="26" height="86"/><text class="e" transform="translate(945.5,304) rotate(90) scale(.82,1)">B<tspan class="s">18</tspan> = λA<tspan class="s">18</tspan></text></g>
<g id="B19"><rect class="b r" x="982.5" y="261" width="26" height="86"/><text class="e" transform="translate(996.5,304) rotate(90) scale(.82,1)">B<tspan class="s">19</tspan> = λA<tspan class="s">19</tspan></text></g>
<g id="B20"><rect class="b t" x="1033.5" y="261" width="26" height="86"/><text class="w" transform="translate(1047.5,304) rotate(90) scale(.82,1)">B<tspan class="s">20</tspan>=A<tspan class="s">20</tspan>-A<tspan class="s">28</tspan></text></g>
<g id="B21"><rect class="b t" x="1084.5" y="261" width="26" height="86"/><text class="w" transform="translate(1098.5,304) rotate(90) scale(.82,1)">B<tspan class="s">21</tspan>=A<tspan class="s">21</tspan>-A<tspan class="s">29</tspan></text></g>
<g id="B22"><rect class="b t" x="1135.5" y="261" width="26" height="86"/><text class="w" transform="translate(1149.5,304) rotate(90) scale(.82,1)">B<tspan class="s">22</tspan>=A<tspan class="s">22</tspan>-A<tspan class="s">30</tspan></text></g>
<g id="B23"><rect class="b t" x="1186.5" y="261" width="26" height="86"/><text class="w" transform="translate(1200.5,304) rotate(90) scale(.82,1)">B<tspan class="s">23</tspan>=A<tspan class="s">23</tspan>-A<tspan class="s">31</tspan></text></g>
<g id="B24"><rect class="b r" x="1237.5" y="261" width="26" height="86"/><text class="e" transform="translate(1251.5,304) rotate(90) scale(.82,1)">B<tspan class="s">24</tspan> = λA<tspan class="s">24</tspan></text></g>
<g id="B25"><rect class="b r" x="1288" y="261" width="26" height="86"/><text class="e" transform="translate(1302,304) rotate(90) scale(.82,1)">B<tspan class="s">25</tspan> = λA<tspan class="s">25</tspan></text></g>
<g id="B26"><rect class="b r" x="1339" y="261" width="26" height="86"/><text class="e" transform="translate(1353,304) rotate(90) scale(.82,1)">B<tspan class="s">26</tspan> = λA<tspan class="s">26</tspan></text></g>
<g id="B27"><rect class="b r" x="1390" y="261" width="26" height="86"/><text class="e" transform="translate(1404,304) rotate(90) scale(.82,1)">B<tspan class="s">27</tspan> = λA<tspan class="s">27</tspan></text></g>
<g id="B28"><rect class="b c" x="1441" y="261" width="26" height="86"/><text class="d" transform="translate(1455,304) rotate(90) scale(.82,1)">B<tspan class="s">28</tspan>=A<tspan class="s">20</tspan>+A<tspan class="s">28</tspan></text></g>
<g id="B29"><rect class="b c" x="1492" y="261" width="26" height="86"/><text class="d" transform="translate(1506,304) rotate(90) scale(.82,1)">B<tspan class="s">29</tspan>=A<tspan class="s">21</tspan>+A<tspan class="s">29</tspan></text></g>
<g id="B30"><rect class="b c" x="1543" y="261" width="26" height="86"/><text class="d" transform="translate(1557,304) rotate(90) scale(.82,1)">B<tspan class="s">30</tspan>=A<tspan class="s">22</tspan>+A<tspan class="s">30</tspan></text></g>
<g id="B31"><rect class="b c" x="1594" y="261" width="26" height="86"/><text class="d" transform="translate(1608,304) rotate(90) scale(.82,1)">B<tspan class="s">31</tspan>=A<tspan class="s">23</tspan>+A<tspan class="s">31</tspan></text></g>

<g id="C0"><rect class="b c" x="13.5" y="411" width="26" height="89"/><text class="d" transform="translate(27.5,455.5) rotate(90) scale(.82,1)">C<tspan class="s">0</tspan>=B<tspan class="s">0</tspan>+B<tspan class="s">4</tspan></text></g>
<g id="C1"><rect class="b c" x="64.5" y="411" width="26" height="89"/><text class="d" transform="translate(78.5,455.5) rotate(90) scale(.82,1)">C<tspan class="s">1</tspan>=B<tspan class="s">1</tspan>+B<tspan class="s">5</tspan></text></g>
<g id="C2"><rect class="b c" x="115.5" y="411" width="26" height="89"/><text class="d" transform="translate(129.5,455.5) rotate(90) scale(.82,1)">C<tspan class="s">2</tspan>=B<tspan class="s">2</tspan>+B<tspan class="s">6</tspan></text></g>
<g id="C3"><rect class="b c" x="166.5" y="411" width="26" height="89"/><text class="d" transform="translate(180.5,455.5) rotate(90) scale(.82,1)">C<tspan class="s">3</tspan>=B<tspan class="s">3</tspan>+B<tspan class="s">7</tspan></text></g>
<g id="C4"><rect class="b t" x="217" y="411" width="26" height="89"/><text class="w" transform="translate(231,455.5) rotate(90) scale(.82,1)">C<tspan class="s">4</tspan>=B<tspan class="s">0</tspan>-B<tspan class="s">4</tspan></text></g>
<g id="C5"><rect class="b t" x="268" y="411" width="26" height="89"/><text class="w" transform="translate(282,455.5) rotate(90) scale(.82,1)">C<tspan class="s">5</tspan>=B<tspan class="s">1</tspan>-B<tspan class="s">5</tspan></text></g>
<g id="C6"><rect class="b t" x="319" y="411" width="26" height="89"/><text class="w" transform="translate(333,455.5) rotate(90) scale(.82,1)">C<tspan class="s">6</tspan>=B<tspan class="s">2</tspan>-B<tspan class="s">6</tspan></text></g>
<g id="C7"><rect class="b t" x="370" y="411" width="26" height="89"/><text class="w" transform="translate(384,455.5) rotate(90) scale(.82,1)">C<tspan class="s">7</tspan>=B<tspan class="s">3</tspan>-B<tspan class="s">7</tspan></text></g>
<g id="C8"><rect class="b g" x="421" y="411" width="26" height="89"/><text class="d" transform="translate(435,455.5) rotate(90) scale(.82,1)">C<tspan class="s">8</tspan>=B<tspan class="s">8</tspan></text></g>
<g id="C9"><rect class="b c" x="472" y="411" width="26" height="89"/><text class="d" transform="translate(486,455.5) rotate(90) scale(.82,1)">C<tspan class="s">9</tspan>=B<tspan class="s">9</tspan>+B<tspan class="s">15</tspan></text></g>
<g id="C10"><rect class="b c" x="523" y="411" width="26" height="89"/><text class="d" transform="translate(537,455.5) rotate(90) scale(.82,1)">C<tspan class="s">10</tspan>=B<tspan class="s">10</tspan>+B<tspan class="s">14</tspan></text></g>
<g id="C11"><rect class="b c" x="573.5" y="411" width="26" height="89"/><text class="d" transform="translate(587.5,455.5) rotate(90) scale(.82,1)">C<tspan class="s">11</tspan>=B<tspan class="s">11</tspan>+B<tspan class="s">13</tspan></text></g>
<g id="C12"><rect class="b g" x="624.5" y="411" width="26" height="89"/><text class="d" transform="translate(638.5,455.5) rotate(90) scale(.82,1)">C<tspan class="s">12</tspan>=C<tspan class="s">12</tspan></text></g>
<g id="C13"><rect class="b t" x="675.5" y="411" width="26" height="89"/><text class="w" transform="translate(689.5,455.5) rotate(90) scale(.82,1)">C<tspan class="s">13</tspan>=B<tspan class="s">11</tspan>-B<tspan class="s">13</tspan></text></g>
<g id="C14"><rect class="b t" x="726.5" y="411" width="26" height="89"/><text class="w" transform="translate(740.5,455.5) rotate(90) scale(.82,1)">C<tspan class="s">14</tspan>=B<tspan class="s">10</tspan>-B<tspan class="s">14</tspan></text></g>
<g id="C15"><rect class="b t" x="777.5" y="411" width="26" height="89"/><text class="w" transform="translate(791.5,455.5) rotate(90) scale(.82,1)">C<tspan class="s">15</tspan>=B<tspan class="s">9</tspan>-B<tspan class="s">15</tspan></text></g>
<g id="C16"><rect class="b c" x="830" y="414" width="26" height="88"/><text class="d" transform="translate(844,458) rotate(90) scale(.82,1)">C<tspan class="s">16</tspan>=B<tspan class="s">16</tspan>+B<tspan class="s">20</tspan></text></g>
<g id="C17"><rect class="b c" x="881" y="414" width="26" height="88"/><text class="d" transform="translate(895,458) rotate(90) scale(.82,1)">C<tspan class="s">17</tspan>=B<tspan class="s">17</tspan>+B<tspan class="s">21</tspan></text></g>
<g id="C18"><rect class="b c" x="931.5" y="414" width="26" height="88"/><text class="d" transform="translate(945.5,458) rotate(90) scale(.82,1)">C<tspan class="s">18</tspan>=B<tspan class="s">18</tspan>+B<tspan class="s">22</tspan></text></g>
<g id="C19"><rect class="b c" x="982.5" y="414" width="26" height="88"/><text class="d" transform="translate(996.5,458) rotate(90) scale(.82,1)">C<tspan class="s">19</tspan>=B<tspan class="s">19</tspan>+B<tspan class="s">23</tspan></text></g>
<g id="C20"><rect class="b t" x="1033.5" y="414" width="26" height="88"/><text class="w" transform="translate(1047.5,458) rotate(90) scale(.82,1)">C<tspan class="s">20</tspan>=B<tspan class="s">16</tspan>-B<tspan class="s">20</tspan></text></g>
<g id="C21"><rect class="b t" x="1084.5" y="414" width="26" height="88"/><text class="w" transform="translate(1098.5,458) rotate(90) scale(.82,1)">C<tspan class="s">21</tspan>=B<tspan class="s">17</tspan>-B<tspan class="s">21</tspan></text></g>
<g id="C22"><rect class="b t" x="1135.5" y="414" width="26" height="88"/><text class="w" transform="translate(1149.5,458) rotate(90) scale(.82,1)">C<tspan class="s">22</tspan>=B<tspan class="s">18</tspan>-B<tspan class="s">22</tspan></text></g>
<g id="C23"><rect class="b t" x="1186.5" y="414" width="26" height="88"/><text class="w" transform="translate(1200.5,458) rotate(90) scale(.82,1)">C<tspan class="s">23</tspan>=B<tspan class="s">19</tspan>-B<tspan class="s">23</tspan></text></g>
<g id="C24"><rect class="b c" x="1237.5" y="414" width="26" height="88"/><text class="d" transform="translate(1251.5,458) rotate(90) scale(.82,1)">C<tspan class="s">24</tspan>=B<tspan class="s">24</tspan>+B<tspan class="s">28</tspan></text></g>
<g id="C25"><rect class="b c" x="1288" y="414" width="26" height="88"/><text class="d" transform="translate(1302,458) rotate(90) scale(.82,1)">C<tspan class="s">25</tspan>=B<tspan class="s">25</tspan>+B<tspan class="s">29</tspan></text></g>
<g id="C26"><rect class="b c" x="1339" y="414" width="26" height="88"/><text class="d" transform="translate(1353,458) rotate(90) scale(.82,1)">C<tspan class="s">26</tspan>=B<tspan class="s">26</tspan>+B<tspan class="s">30</tspan></text></g>
<g id="C27"><rect class="b c" x="1390" y="414" width="26" height="88"/><text class="d" transform="translate(1404,458) rotate(90) scale(.82,1)">C<tspan class="s">27</tspan>=B<tspan class="s">27</tspan>+B<tspan class="s">31</tspan></text></g>
<g id="C28"><rect class="b t" x="1441" y="414" width="26" height="88"/><text class="w" transform="translate(1455,458) rotate(90) scale(.82,1)">C<tspan class="s">28</tspan>=B<tspan class="s">24</tspan>-B<tspan class="s">28</tspan></text></g>
<g id="C29"><rect class="b t" x="1492" y="414" width="26" height="88"/><text class="w" transform="translate(1506,458) rotate(90) scale(.82,1)">C<tspan class="s">29</tspan>=B<tspan class="s">25</tspan>-B<tspan class="s">29</tspan></text></g>
<g id="C30"><rect class="b t" x="1543" y="414" width="26" height="88"/><text class="w" transform="translate(1557,458) rotate(90) scale(.82,1)">C<tspan class="s">30</tspan>=B<tspan class="s">26</tspan>-B<tspan class="s">30</tspan></text></g>
<g id="C31"><rect class="b t" x="1594" y="414" width="26" height="88"/><text class="w" transform="translate(1608,458) rotate(90) scale(.82,1)">C<tspan class="s">31</tspan>=B<tspan class="s">27</tspan>-B<tspan class="s">31</tspan></text></g>

<g id="D0"><rect class="b c" x="13.5" y="563" width="26" height="86"/><text class="d" transform="translate(27.5,606) rotate(90) scale(.82,1)">D<tspan class="s">0</tspan>=C<tspan class="s">0</tspan>+C<tspan class="s">2</tspan></text></g>
<g id="D1"><rect class="b c" x="64.5" y="563" width="26" height="86"/><text class="d" transform="translate(78.5,606) rotate(90) scale(.82,1)">D<tspan class="s">1</tspan>=C<tspan class="s">1</tspan>+C<tspan class="s">3</tspan></text></g>
<g id="D2"><rect class="b t" x="115.5" y="563" width="26" height="86"/><text class="w" transform="translate(129.5,606) rotate(90) scale(.82,1)">D<tspan class="s">2</tspan>=C<tspan class="s">0</tspan>-C<tspan class="s">2</tspan></text></g>
<g id="D3"><rect class="b t" x="166.5" y="563" width="26" height="86"/><text class="w" transform="translate(180.5,606) rotate(90) scale(.82,1)">D<tspan class="s">3</tspan>=C<tspan class="s">1</tspan>-C<tspan class="s">3</tspan></text></g>
<g id="D4"><rect class="b g" x="217" y="563" width="26" height="86"/><text class="d" transform="translate(231,606) rotate(90) scale(.82,1)">D<tspan class="s">4</tspan>=C<tspan class="s">4</tspan></text></g>
<g id="D5"><rect class="b c" x="268" y="563" width="26" height="86"/><text class="d" transform="translate(282,606) rotate(90) scale(.82,1)">D<tspan class="s">5</tspan>=C<tspan class="s">5</tspan>+C<tspan class="s">7</tspan></text></g>
<g id="D6"><rect class="b g" x="319" y="563" width="26" height="86"/><text class="d" transform="translate(333,606) rotate(90) scale(.82,1)">D<tspan class="s">6</tspan>=C<tspan class="s">6</tspan></text></g>
<g id="D7"><rect class="b t" x="370" y="563" width="26" height="86"/><text class="w" transform="translate(384,606) rotate(90) scale(.82,1)">D<tspan class="s">7</tspan>=C<tspan class="s">5</tspan>-C<tspan class="s">7</tspan></text></g>
<g id="D8"><rect class="b g" x="421" y="563" width="26" height="86"/><text class="d" transform="translate(435,606) rotate(90) scale(.82,1)">D<tspan class="s">8</tspan>=C<tspan class="s">8</tspan></text></g>
<g id="D9A"><rect class="b r" x="472" y="566" width="25.2" height="84"/><text class="e big" transform="translate(485.6,608) rotate(90) scale(.82,1)">D<tspan class="s">9A</tspan>=αC<tspan class="s">9</tspan></text></g>
<g id="D9B"><rect class="b r" x="497.2" y="566" width="25.2" height="84"/><text class="e big" transform="translate(510.8,608) rotate(90) scale(.82,1)">D<tspan class="s">9B</tspan>=βC<tspan class="s">9</tspan></text></g>
<g id="D10"><rect class="b r" x="522.4" y="566" width="25.2" height="84"/><text class="e big" transform="translate(536,608) rotate(90) scale(.82,1)">D<tspan class="s">10</tspan>=γC<tspan class="s">10</tspan></text></g>
<g id="D11B"><rect class="b r" x="547.6" y="566" width="25.2" height="84"/><text class="e big" transform="translate(561.2,608) rotate(90) scale(.82,1)">D<tspan class="s">11B</tspan>=βC<tspan class="s">11</tspan></text></g>
<g id="D11A"><rect class="b r" x="572.8" y="566" width="25.2" height="84"/><text class="e big" transform="translate(586.4,608) rotate(90) scale(.82,1)">D<tspan class="s">11A</tspan>=αC<tspan class="s">11</tspan></text></g>
<g id="D12"><rect class="b g" x="624.5" y="563" width="26" height="86"/><text class="d" transform="translate(638.5,606) rotate(90) scale(.82,1)">D<tspan class="s">12</tspan>=C<tspan class="s">12</tspan></text></g>
<g id="D13A"><rect class="b r" x="674" y="566" width="25.2" height="84"/><text class="e big" transform="translate(687.6,608) rotate(90) scale(.82,1)">D<tspan class="s">13A</tspan>=αC<tspan class="s">13</tspan></text></g>
<g id="D13B"><rect class="b r" x="699.2" y="566" width="25.2" height="84"/><text class="e big" transform="translate(712.8,608) rotate(90) scale(.82,1)">D<tspan class="s">13B</tspan>=βC<tspan class="s">13</tspan></text></g>
<g id="D14"><rect class="b r" x="724.4" y="566" width="25.2" height="84"/><text class="e big" transform="translate(738,608) rotate(90) scale(.82,1)">D<tspan class="s">14</tspan>=γC<tspan class="s">14</tspan></text></g>
<g id="D15B"><rect class="b r" x="749.6" y="566" width="25.2" height="84"/><text class="e big" transform="translate(763.2,608) rotate(90) scale(.82,1)">D<tspan class="s">15B</tspan>=βC<tspan class="s">15</tspan></text></g>
<g id="D15A"><rect class="b r" x="774.8" y="566" width="25.2" height="84"/><text class="e big" transform="translate(788.4,608) rotate(90) scale(.82,1)">D<tspan class="s">15A</tspan>=αC<tspan class="s">15</tspan></text></g>
<g id="D16"><rect class="b g" x="830" y="567" width="26" height="66"/><text class="d" transform="translate(844,600) rotate(90) scale(.82,1)">D<tspan class="s">16</tspan>=C<tspan class="s">16</tspan></text></g>
<g id="D20"><rect class="b g" x="1033.5" y="567" width="26" height="66"/><text class="d" transform="translate(1047.5,600) rotate(90) scale(.82,1)">D<tspan class="s">20</tspan>=C<tspan class="s">20</tspan></text></g>
<g id="D24"><rect class="b g" x="1237.5" y="567" width="26" height="66"/><text class="d" transform="translate(1251.5,600) rotate(90) scale(.82,1)">D<tspan class="s">24</tspan>=C<tspan class="s">24</tspan></text></g>
<g id="D28"><rect class="b g" x="1441" y="567" width="26" height="66"/><text class="d" transform="translate(1455,600) rotate(90) scale(.82,1)">D<tspan class="s">28</tspan>=C<tspan class="s">28</tspan></text></g>

<g id="E0"><rect class="b c" x="13.5" y="717" width="26" height="100"/><text class="d" transform="translate(27.5,767) rotate(90) scale(.82,1)">E<tspan class="s">0</tspan>=D<tspan class="s">0</tspan>+D<tspan class="s">1</tspan></text></g>
<g id="E1"><rect class="b t" x="64.5" y="717" width="26" height="100"/><text class="w" transform="translate(78.5,767) rotate(90) scale(.82,1)">E<tspan class="s">1</tspan>=D<tspan class="s">0</tspan>-D<tspan class="s">1</tspan></text></g>
<g id="E2"><rect class="b g" x="115.5" y="717" width="26" height="100"/><text class="d" transform="translate(129.5,767) rotate(90) scale(.82,1)">E<tspan class="s">2</tspan>=D<tspan class="s">2</tspan></text></g>
<g id="E3"><rect class="b g" x="166.5" y="717" width="26" height="100"/><text class="d" transform="translate(180.5,767) rotate(90) scale(.82,1)">E<tspan class="s">3</tspan>=D<tspan class="s">3</tspan></text></g>
<g id="E4"><rect class="b g" x="217" y="717" width="26" height="100"/><text class="d" transform="translate(231,767) rotate(90) scale(.82,1)">E<tspan class="s">4</tspan>=D<tspan class="s">4</tspan></text></g>
<g id="E5"><rect class="b r" x="268" y="717" width="26" height="100"/><text class="e" transform="translate(282,767) rotate(90) scale(.82,1)">E<tspan class="s">5</tspan> = –γD<tspan class="s">5</tspan></text></g>
<g id="E6"><rect class="b g" x="319" y="717" width="26" height="100"/><text class="d" transform="translate(333,767) rotate(90) scale(.82,1)">E<tspan class="s">6</tspan>=D<tspan class="s">6</tspan></text></g>
<g id="E7"><rect class="b r" x="370" y="717" width="26" height="100"/><text class="e" transform="translate(384,767) rotate(90) scale(.82,1)">E<tspan class="s">7</tspan> = γD<tspan class="s">7</tspan></text></g>
<g id="E8"><rect class="b c" x="421" y="717" width="26" height="100"/><text class="d" transform="translate(435,767) rotate(90) scale(.82,1)">E<tspan class="s">8</tspan>= D<tspan class="s">8</tspan>+D<tspan class="s">14</tspan></text></g>
<g id="E9"><rect class="b t" x="472" y="717" width="26" height="100"/><text class="w" transform="translate(486,767) rotate(90) scale(.82,1)">E<tspan class="s">9</tspan>=D<tspan class="s">9A</tspan>-D<tspan class="s">11B</tspan></text></g>
<g id="E10"><rect class="b c" x="523" y="717" width="26" height="100"/><text class="d" transform="translate(537,767) rotate(90) scale(.82,1)">E<tspan class="s">10</tspan>=D<tspan class="s">10</tspan>+D<tspan class="s">12</tspan></text></g>
<g id="E11"><rect class="b c" x="573.5" y="717" width="26" height="100"/><text class="d" transform="translate(587.5,767) rotate(90) scale(.82,1)">E<tspan class="s">11</tspan>=D<tspan class="s">11A</tspan>+D<tspan class="s">9B</tspan></text></g>
<g id="E12"><rect class="b t" x="624.5" y="717" width="26" height="100"/><text class="w" transform="translate(638.5,767) rotate(90) scale(.82,1)">E<tspan class="s">12</tspan>=D<tspan class="s">10</tspan>-D<tspan class="s">12</tspan></text></g>
<g id="E13"><rect class="b t" x="675.5" y="717" width="26" height="100"/><text class="w" transform="translate(689.5,767) rotate(90) scale(.82,1)">E<tspan class="s">13</tspan>=D<tspan class="s">15B</tspan>-D<tspan class="s">13A</tspan></text></g>
<g id="E14"><rect class="b t" x="726.5" y="717" width="26" height="100"/><text class="w" transform="translate(740.5,767) rotate(90) scale(.82,1)">E<tspan class="s">14</tspan>=D<tspan class="s">8</tspan>-D<tspan class="s">14</tspan></text></g>
<g id="E15"><rect class="b c" x="777.5" y="717" width="26" height="100"/><text class="d" transform="translate(791.5,767) rotate(90) scale(.82,1)">E<tspan class="s">15</tspan>=D<tspan class="s">13B</tspan>+D<tspan class="s">15A</tspan></text></g>
<g id="E16"><rect class="b k" x="830" y="647" width="26" height="65"/><text class="e" transform="translate(844,679.5) rotate(90) scale(.82,1)">E<tspan class="s">16</tspan>=γD<tspan class="s">16</tspan></text></g>
<g id="E17"><rect class="b r" x="882" y="568" width="24" height="144"/><text class="e big" transform="translate(895,640) rotate(90) scale(.82,1)">E<tspan class="s">17</tspan>=ξ’C<tspan class="s">17</tspan>–η’C<tspan class="s">25</tspan></text></g>
<g id="E18"><rect class="b r" x="932.5" y="568" width="24" height="144"/><text class="e big" transform="translate(945.5,640) rotate(90) scale(.82,1)">E<tspan class="s">18</tspan>=α’C<tspan class="s">18</tspan>–β’C<tspan class="s">26</tspan></text></g>
<g id="E19"><rect class="b r" x="983.5" y="568" width="24" height="144"/><text class="e big" transform="translate(996.5,640) rotate(90) scale(.82,1)">E<tspan class="s">19</tspan>=σ’C<tspan class="s">19</tspan>–ρ’C<tspan class="s">27</tspan></text></g>
<g id="E20"><rect class="b k" x="1033.5" y="647" width="26" height="65"/><text class="e" transform="translate(1047.5,679.5) rotate(90) scale(.82,1)">E<tspan class="s">20</tspan>=γD<tspan class="s">20</tspan></text></g>
<g id="E21"><rect class="b r" x="1085.5" y="568" width="24" height="144"/><text class="e big" transform="translate(1098.5,640) rotate(90) scale(.82,1)">E<tspan class="s">21</tspan>=ρ’C<tspan class="s">21</tspan>–σ’C<tspan class="s">29</tspan></text></g>
<g id="E22"><rect class="b r" x="1136.5" y="568" width="24" height="144"/><text class="e big" transform="translate(1149.5,640) rotate(90) scale(.82,1)">E<tspan class="s">22</tspan>=β’C<tspan class="s">22</tspan>+α’C<tspan class="s">30</tspan></text></g>
<g id="E23"><rect class="b r" x="1187.5" y="568" width="24" height="144"/><text class="e big" transform="translate(1200.5,640) rotate(90) scale(.82,1)">E<tspan class="s">23</tspan>=ξ’C<tspan class="s">23</tspan>+η’C<tspan class="s">31</tspan></text></g>
<g id="E24"><rect class="b k" x="1237.5" y="647" width="26" height="65"/><text class="e" transform="translate(1251.5,679.5) rotate(90) scale(.82,1)">E<tspan class="s">24</tspan>=γD<tspan class="s">24</tspan></text></g>
<g id="E25"><rect class="b r" x="1289" y="568" width="24" height="144"/><text class="e big" transform="translate(1302,640) rotate(90) scale(.82,1)">E<tspan class="s">25</tspan>=ξ’C<tspan class="s">25</tspan>+η’C<tspan class="s">17</tspan></text></g>
<g id="E26"><rect class="b r" x="1340" y="568" width="24" height="144"/><text class="e big" transform="translate(1353,640) rotate(90) scale(.82,1)">E<tspan class="s">26</tspan>=α’C<tspan class="s">26</tspan>+β’C<tspan class="s">18</tspan></text></g>
<g id="E27"><rect class="b r" x="1391" y="568" width="24" height="144"/><text class="e big" transform="translate(1404,640) rotate(90) scale(.82,1)">E<tspan class="s">27</tspan>=σ’C<tspan class="s">27</tspan>+ρ’C<tspan class="s">19</tspan></text></g>
<g id="E28"><rect class="b k" x="1441" y="647" width="26" height="65"/><text class="e" transform="translate(1455,679.5) rotate(90) scale(.82,1)">E<tspan class="s">28</tspan>=γD<tspan class="s">28</tspan></text></g>
<g id="E29"><rect class="b r" x="1493" y="568" width="24" height="144"/><text class="e big" transform="translate(1506,640) rotate(90) scale(.82,1)">E<tspan class="s">29</tspan>=σ’C<tspan class="s">21</tspan>+ρ’C<tspan class="s">29</tspan></text></g>
<g id="E30"><rect class="b r" x="1544" y="568" width="24" height="144"/><text class="e big" transform="translate(1557,640) rotate(90) scale(.82,1)">E<tspan class="s">30</tspan>=α’C<tspan class="s">22</tspan>–β’C<tspan class="s">30</tspan></text></g>
<g id="E31"><rect class="b r" x="1595" y="568" width="24" height="144"/><text class="e big" transform="translate(1608,640) rotate(90) scale(.82,1)">E<tspan class="s">31</tspan>=η’C<tspan class="s">23</tspan>–ξ’C<tspan class="s">31</tspan></text></g>

<g id="F0"><rect class="b g" x="13.5" y="874" width="26" height="109"/><text class="d" transform="translate(27.5,928.5) rotate(90) scale(.82,1)">F<tspan class="s">0</tspan>=E<tspan class="s">0</tspan></text></g>
<g id="F1"><rect class="b g" x="64.5" y="874" width="26" height="109"/><text class="d" transform="translate(78.5,928.5) rotate(90) scale(.82,1)">F<tspan class="s">1</tspan>=E<tspan class="s">1</tspan></text></g>
<g id="F2"><rect class="b g" x="115.5" y="874" width="26" height="109"/><text class="d" transform="translate(129.5,928.5) rotate(90) scale(.82,1)">F<tspan class="s">2</tspan>=E<tspan class="s">2</tspan></text></g>
<g id="F3"><rect class="b g" x="166.5" y="874" width="26" height="109"/><text class="d" transform="translate(180.5,928.5) rotate(90) scale(.82,1)">F<tspan class="s">3</tspan>=E<tspan class="s">3</tspan></text></g>
<g id="F4"><rect class="b c" x="217" y="874" width="26" height="109"/><text class="d" transform="translate(231,928.5) rotate(90) scale(.82,1)">F<tspan class="s">4</tspan>=E<tspan class="s">4</tspan>+E<tspan class="s">7</tspan></text></g>
<g id="F5"><rect class="b t" x="268" y="874" width="26" height="109"/><text class="w" transform="translate(282,928.5) rotate(90) scale(.82,1)">F<tspan class="s">5</tspan>=E<tspan class="s">6</tspan>-E<tspan class="s">5</tspan></text></g>
<g id="F6"><rect class="b c" x="319" y="874" width="26" height="109"/><text class="d" transform="translate(333,928.5) rotate(90) scale(.82,1)">F<tspan class="s">6</tspan>=E<tspan class="s">6</tspan>+E<tspan class="s">5</tspan></text></g>
<g id="F7"><rect class="b t" x="370" y="874" width="26" height="109"/><text class="w" transform="translate(384,928.5) rotate(90) scale(.82,1)">F<tspan class="s">7</tspan>=E<tspan class="s">4</tspan>-E<tspan class="s">7</tspan></text></g>
<g id="F8"><rect class="b c" x="421" y="874" width="26" height="109"/><text class="d" transform="translate(435,928.5) rotate(90) scale(.82,1)">F<tspan class="s">8</tspan> = E<tspan class="s">8</tspan>+E<tspan class="s">15</tspan></text></g>
<g id="F9"><rect class="b t" x="472" y="874" width="26" height="109"/><text class="w" transform="translate(486,928.5) rotate(90) scale(.82,1)">F<tspan class="s">9</tspan> = E<tspan class="s">12</tspan>-E<tspan class="s">9</tspan></text></g>
<g id="F10"><rect class="b c" x="523" y="874" width="26" height="109"/><text class="d" transform="translate(537,928.5) rotate(90) scale(.82,1)">F<tspan class="s">10</tspan> = E<tspan class="s">10</tspan>+E<tspan class="s">11</tspan></text></g>
<g id="F11"><rect class="b t" x="573.5" y="874" width="26" height="109"/><text class="w" transform="translate(587.5,928.5) rotate(90) scale(.82,1)">F<tspan class="s">11</tspan>=E<tspan class="s">10</tspan>-E<tspan class="s">11</tspan></text></g>
<g id="F12"><rect class="b c" x="624.5" y="874" width="26" height="109"/><text class="d" transform="translate(638.5,928.5) rotate(90) scale(.82,1)">F<tspan class="s">12</tspan>=E<tspan class="s">12</tspan>+E<tspan class="s">9</tspan></text></g>
<g id="F13"><rect class="b t" x="675.5" y="874" width="26" height="109"/><text class="w" transform="translate(689.5,928.5) rotate(90) scale(.82,1)">F<tspan class="s">13</tspan> = E<tspan class="s">14</tspan>-E<tspan class="s">13</tspan></text></g>
<g id="F14"><rect class="b c" x="726.5" y="874" width="26" height="109"/><text class="d" transform="translate(740.5,928.5) rotate(90) scale(.82,1)">F<tspan class="s">14</tspan>=E<tspan class="s">14</tspan>+E<tspan class="s">13</tspan></text></g>
<g id="F15"><rect class="b t" x="777.5" y="874" width="26" height="109"/><text class="w" transform="translate(791.5,928.5) rotate(90) scale(.82,1)">F<tspan class="s">15</tspan> =E<tspan class="s">8</tspan>-E<tspan class="s">15</tspan></text></g>
<g id="F16"><rect class="b c" x="830" y="784" width="26" height="97"/><text class="d" transform="translate(844,832.5) rotate(90) scale(.82,1)">F<tspan class="s">16</tspan>=E<tspan class="s">16</tspan>+E<tspan class="s">18</tspan></text></g>
<g id="F17"><rect class="b c" x="881" y="784" width="26" height="97"/><text class="d" transform="translate(895,832.5) rotate(90) scale(.82,1)">F<tspan class="s">17</tspan>=E<tspan class="s">17</tspan>+E<tspan class="s">19</tspan></text></g>
<g id="F18"><rect class="b t" x="931.5" y="784" width="26" height="97"/><text class="w" transform="translate(945.5,832.5) rotate(90) scale(.82,1)">F<tspan class="s">18</tspan>=E<tspan class="s">16</tspan>-E<tspan class="s">18</tspan></text></g>
<g id="F19"><rect class="b t" x="982.5" y="784" width="26" height="97"/><text class="w" transform="translate(996.5,832.5) rotate(90) scale(.82,1)">F<tspan class="s">19</tspan>=E<tspan class="s">17</tspan>-E<tspan class="s">19</tspan></text></g>
<g id="F20"><rect class="b c" x="1033.5" y="784" width="26" height="97"/><text class="d" transform="translate(1047.5,832.5) rotate(90) scale(.82,1)">F<tspan class="s">20</tspan>=E<tspan class="s">20</tspan>+E<tspan class="s">22</tspan></text></g>
<g id="F21"><rect class="b c" x="1084.5" y="784" width="26" height="97"/><text class="d" transform="translate(1098.5,832.5) rotate(90) scale(.82,1)">F<tspan class="s">21</tspan>=E<tspan class="s">21</tspan>+E<tspan class="s">23</tspan></text></g>
<g id="F22"><rect class="b t" x="1135.5" y="784" width="26" height="97"/><text class="w" transform="translate(1149.5,832.5) rotate(90) scale(.82,1)">F<tspan class="s">22</tspan>=E<tspan class="s">20</tspan>-E<tspan class="s">22</tspan></text></g>
<g id="F23"><rect class="b t" x="1186.5" y="784" width="26" height="97"/><text class="w" transform="translate(1200.5,832.5) rotate(90) scale(.82,1)">F<tspan class="s">23</tspan>=E<tspan class="s">21</tspan>-E<tspan class="s">23</tspan></text></g>
<g id="F24"><rect class="b c" x="1237.5" y="784" width="26" height="97"/><text class="d" transform="translate(1251.5,832.5) rotate(90) scale(.82,1)">F<tspan class="s">24</tspan>=E<tspan class="s">24</tspan>+E<tspan class="s">26</tspan></text></g>
<g id="F25"><rect class="b c" x="1288" y="784" width="26" height="97"/><text class="d" transform="translate(1302,832.5) rotate(90) scale(.82,1)">F<tspan class="s">25</tspan>=E<tspan class="s">25</tspan>+E<tspan class="s">27</tspan></text></g>
<g id="F26"><rect class="b t" x="1339" y="784" width="26" height="97"/><text class="w" transform="translate(1353,832.5) rotate(90) scale(.82,1)">F<tspan class="s">26</tspan>=E<tspan class="s">24</tspan>-E<tspan class="s">26</tspan></text></g>
<g id="F27"><rect class="b t" x="1390" y="784" width="26" height="97"/><text class="w" transform="translate(1404,832.5) rotate(90) scale(.82,1)">F<tspan class="s">27</tspan>=E<tspan class="s">25</tspan>-E<tspan class="s">27</tspan></text></g>
<g id="F28"><rect class="b c" x="1441" y="784" width="26" height="97"/><text class="d" transform="translate(1455,832.5) rotate(90) scale(.82,1)">F<tspan class="s">28</tspan>=E<tspan class="s">28</tspan>+E<tspan class="s">30</tspan></text></g>
<g id="F29"><rect class="b c" x="1492" y="784" width="26" height="97"/><text class="d" transform="translate(1506,832.5) rotate(90) scale(.82,1)">F<tspan class="s">29</tspan>=E<tspan class="s">29</tspan>+E<tspan class="s">31</tspan></text></g>
<g id="F30"><rect class="b t" x="1543" y="784" width="26" height="97"/><text class="w" transform="translate(1557,832.5) rotate(90) scale(.82,1)">F<tspan class="s">30</tspan>=E<tspan class="s">28</tspan>-E<tspan class="s">30</tspan></text></g>
<g id="F31"><rect class="b t" x="1594" y="784" width="26" height="97"/><text class="w" transform="translate(1608,832.5) rotate(90) scale(.82,1)">F<tspan class="s">31</tspan>=E<tspan class="s">29</tspan>-E<tspan class="s">31</tspan></text></g>

<g id="O0"><rect class="b g" x="13.5" y="1020" width="26" height="57"/><text class="d o" transform="translate(27.5,1048.5) rotate(90) scale(.82,1)">Re X<tspan class="s">0</tspan></text></g>
<g id="O1"><rect class="b g" x="64.5" y="1020" width="26" height="57"/><text class="d o" transform="translate(78.5,1048.5) rotate(90) scale(.82,1)">Re X<tspan class="s">16</tspan></text></g>
<g id="O2"><rect class="b g" x="115.5" y="1020" width="26" height="57"/><text class="d o" transform="translate(129.5,1048.5) rotate(90) scale(.82,1)">Re X<tspan class="s">8</tspan></text></g>
<g id="O3"><rect class="b g" x="166.5" y="1020" width="26" height="57"/><text class="d o" transform="translate(180.5,1048.5) rotate(90) scale(.82,1)">Im X<tspan class="s">8</tspan></text></g>
<g id="O4"><rect class="b g" x="217" y="1020" width="26" height="57"/><text class="d o" transform="translate(231,1048.5) rotate(90) scale(.82,1)">Re X<tspan class="s">4</tspan></text></g>
<g id="O5"><rect class="b g" x="268" y="1020" width="26" height="57"/><text class="d o" transform="translate(282,1048.5) rotate(90) scale(.82,1)">Im X<tspan class="s">4</tspan></text></g>
<g id="O6"><rect class="b g" x="319" y="1020" width="26" height="57"/><text class="d o" transform="translate(333,1048.5) rotate(90) scale(.82,1)">Im X<tspan class="s">12</tspan></text></g>
<g id="O7"><rect class="b g" x="370" y="1020" width="26" height="57"/><text class="d o" transform="translate(384,1048.5) rotate(90) scale(.82,1)">Re X<tspan class="s">12</tspan></text></g>
<g id="O8"><rect class="b g" x="421" y="1020" width="26" height="57"/><text class="d o" transform="translate(435,1048.5) rotate(90) scale(.82,1)">Re X<tspan class="s">2</tspan></text></g>
<g id="O9"><rect class="b g" x="472" y="1020" width="26" height="57"/><text class="d o" transform="translate(486,1048.5) rotate(90) scale(.82,1)">Im X<tspan class="s">10</tspan></text></g>
<g id="O10"><rect class="b g" x="523" y="1020" width="26" height="57"/><text class="d o" transform="translate(537,1048.5) rotate(90) scale(.82,1)">-Im X<tspan class="s">2</tspan></text></g>
<g id="O11"><rect class="b g" x="573.5" y="1020" width="26" height="57"/><text class="d o" transform="translate(587.5,1048.5) rotate(90) scale(.82,1)">Im X<tspan class="s">14</tspan></text></g>
<g id="O12"><rect class="b g" x="624.5" y="1020" width="26" height="57"/><text class="d o" transform="translate(638.5,1048.5) rotate(90) scale(.82,1)">Im X<tspan class="s">6</tspan></text></g>
<g id="O13"><rect class="b g" x="675.5" y="1020" width="26" height="57"/><text class="d o" transform="translate(689.5,1048.5) rotate(90) scale(.82,1)">Re X<tspan class="s">10</tspan></text></g>
<g id="O14"><rect class="b g" x="726.5" y="1020" width="26" height="57"/><text class="d o" transform="translate(740.5,1048.5) rotate(90) scale(.82,1)">Re X<tspan class="s">6</tspan></text></g>
<g id="O15"><rect class="b g" x="777.5" y="1020" width="26" height="57"/><text class="d o" transform="translate(791.5,1048.5) rotate(90) scale(.82,1)">Re X<tspan class="s">14</tspan></text></g>
<g id="O16"><rect class="b c" x="830" y="952" width="26" height="124"/><text class="d o" transform="translate(844,1014) rotate(90) scale(.82,1)">Re X<tspan class="s">1</tspan>=F<tspan class="s">16</tspan>+F<tspan class="s">17</tspan></text></g>
<g id="O17"><rect class="b t" x="881" y="952" width="26" height="124"/><text class="w o" transform="translate(895,1014) rotate(90) scale(.82,1)">Re X<tspan class="s">15</tspan>=F<tspan class="s">16</tspan>-F<tspan class="s">17</tspan></text></g>
<g id="O18"><rect class="b c" x="931.5" y="952" width="26" height="124"/><text class="d o" transform="translate(945.5,1014) rotate(90) scale(.82,1)">Re X<tspan class="s">7</tspan>=F<tspan class="s">18</tspan>+F<tspan class="s">27</tspan></text></g>
<g id="O19"><rect class="b t" x="982.5" y="952" width="26" height="124"/><text class="w o" transform="translate(996.5,1014) rotate(90) scale(.82,1)">Im X<tspan class="s">7</tspan>=F<tspan class="s">26</tspan>-F<tspan class="s">19</tspan></text></g>
<g id="O20"><rect class="b t" x="1033.5" y="952" width="26" height="124"/><text class="w o" transform="translate(1047.5,1014) rotate(90) scale(.82,1)">Re X<tspan class="s">13</tspan>=F<tspan class="s">20</tspan>-F<tspan class="s">31</tspan></text></g>
<g id="O21"><rect class="b c" x="1084.5" y="952" width="26" height="124"/><text class="d o" transform="translate(1098.5,1014) rotate(90) scale(.82,1)">-ImX<tspan class="s">13</tspan>=F<tspan class="s">21</tspan>+F<tspan class="s">30</tspan></text></g>
<g id="O22"><rect class="b c" x="1135.5" y="952" width="26" height="124"/><text class="d o" transform="translate(1149.5,1014) rotate(90) scale(.82,1)">Re X<tspan class="s">5</tspan>=F<tspan class="s">22</tspan>+F<tspan class="s">23</tspan></text></g>
<g id="O23"><rect class="b t" x="1186.5" y="952" width="26" height="124"/><text class="w o" transform="translate(1200.5,1014) rotate(90) scale(.82,1)">Re X<tspan class="s">11</tspan>=F<tspan class="s">22</tspan>-F<tspan class="s">23</tspan></text></g>
<g id="O24"><rect class="b c" x="1237.5" y="952" width="26" height="124"/><text class="d o" transform="translate(1251.5,1014) rotate(90) scale(.82,1)">-Im X<tspan class="s">1</tspan>=F<tspan class="s">24</tspan>+F<tspan class="s">25</tspan></text></g>
<g id="O25"><rect class="b t" x="1288" y="952" width="26" height="124"/><text class="w o" transform="translate(1302,1014) rotate(90) scale(.82,1)">Im X<tspan class="s">15</tspan>=F<tspan class="s">24</tspan>-F<tspan class="s">25</tspan></text></g>
<g id="O26"><rect class="b c" x="1339" y="952" width="26" height="124"/><text class="d o" transform="translate(1353,1014) rotate(90) scale(.82,1)">-Im X<tspan class="s">9</tspan>=F<tspan class="s">19</tspan>+F<tspan class="s">26</tspan></text></g>
<g id="O27"><rect class="b t" x="1390" y="952" width="26" height="124"/><text class="w o" transform="translate(1404,1014) rotate(90) scale(.82,1)">Re X<tspan class="s">9</tspan>=F<tspan class="s">18</tspan>-F<tspan class="s">27</tspan></text></g>
<g id="O28"><rect class="b c" x="1441" y="952" width="26" height="124"/><text class="d o" transform="translate(1455,1014) rotate(90) scale(.82,1)">-Im X<tspan class="s">5</tspan>=F<tspan class="s">28</tspan>+F<tspan class="s">29</tspan></text></g>
<g id="O29"><rect class="b t" x="1492" y="952" width="26" height="124"/><text class="w o" transform="translate(1506,1014) rotate(90) scale(.82,1)">Im X<tspan class="s">11</tspan>=F<tspan class="s">28</tspan>-F<tspan class="s">29</tspan></text></g>
<g id="O30"><rect class="b t" x="1543" y="952" width="26" height="124"/><text class="w o" transform="translate(1557,1014) rotate(90) scale(.82,1)">Im X<tspan class="s">3</tspan>=F<tspan class="s">30</tspan>-F<tspan class="s">21</tspan></text></g>
<g id="O31"><rect class="b c" x="1594" y="952" width="26" height="124"/><text class="d o" transform="translate(1608,1014) rotate(90) scale(.82,1)">Re X<tspan class="s">3</tspan>=F<tspan class="s">20</tspan>+F<tspan class="s">31</tspan></text></g>
</g>
</svg>
